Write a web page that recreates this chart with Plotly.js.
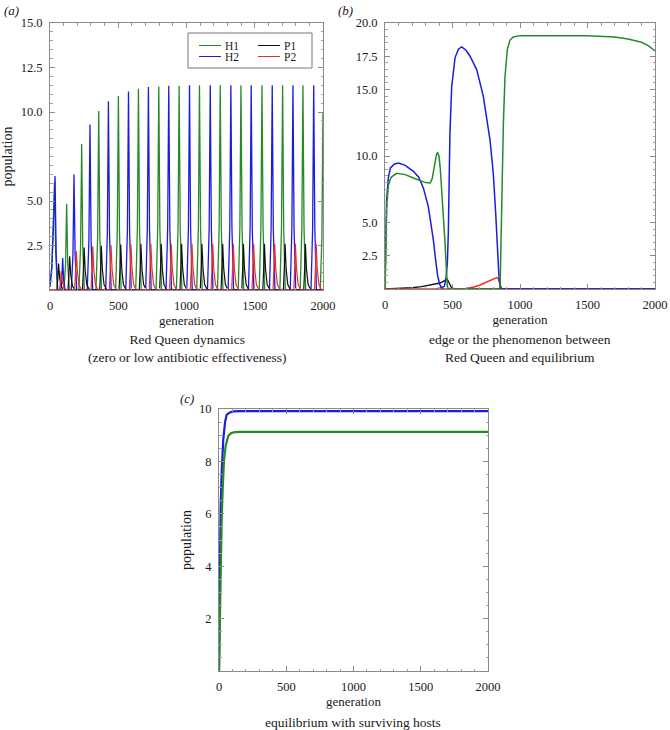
<!DOCTYPE html>
<html><head><meta charset="utf-8">
<script src="https://cdn.plot.ly/plotly-3.0.1.min.js"></script>
<style>html,body{margin:0;padding:0;background:#fff}#chart{width:670px;height:730px}</style>
</head><body><div id="chart"></div>
<script>
// ---------- Panel (a): Red Queen dynamics ----------
const aH1Gen = [0,12,24,33,42,55, 102,114,122,130,142, 212,224,232,240,252, 337,349,357,365,377, 481,493,501,509,521, 628,640,648,656,668, 777,789,797,805,817, 926,938,946,954,966, 1075,1087,1095,1103,1115, 1227,1239,1247,1255,1267, 1379,1391,1399,1407,1419, 1533,1545,1553,1561,1573, 1684,1696,1704,1712,1724, 1833,1845,1853,1861,1873, 1980,1992,2000];
const aH1Pop = [0.2,1.2,3.8,6.06,2.0,0, 0,1.45,4.85,1.45,0, 0,2.46,8.2,2.46,0, 0,3.02,10.05,3.02,0, 0,3.27,10.9,3.27,0, 0,3.39,11.3,3.39,0, 0,3.43,11.43,3.43,0, 0,3.44,11.48,3.44,0, 0,3.45,11.5,3.45,0, 0,3.45,11.5,3.45,0, 0,3.45,11.5,3.45,0, 0,3.45,11.5,3.45,0, 0,3.45,11.5,3.45,0, 0,3.45,11.5,3.45,0, 0,3.0,10.0];

const aH2Gen = [0,14,27,37,45,56, 79,86,93,100,111, 156,168,176,184,196, 273,285,293,301,313, 408,420,428,436,448, 555,567,575,583,595, 701,713,721,729,741, 850,862,870,878,890, 1002,1014,1022,1030,1042, 1154,1166,1174,1182,1194, 1305,1317,1325,1333,1345, 1454,1466,1474,1482,1494, 1608,1620,1628,1636,1648, 1760,1772,1780,1788,1800, 1912,1924,1932,1940,1952, 2000];
const aH2Pop = [0.2,1.3,4.0,6.4,2.1,0, 0,0.55,1.8,0.55,0, 0,1.95,6.5,1.95,0, 0,2.79,9.3,2.79,0, 0,3.18,10.6,3.18,0, 0,3.35,11.15,3.35,0, 0,3.42,11.4,3.42,0, 0,3.44,11.48,3.44,0, 0,3.45,11.5,3.45,0, 0,3.45,11.5,3.45,0, 0,3.45,11.5,3.45,0, 0,3.45,11.5,3.45,0, 0,3.45,11.5,3.45,0, 0,3.45,11.5,3.45,0, 0,3.45,11.5,3.45,0, 0];

const aP1Gen = [0, 51,58,63,71,83,103, 132,139,144,152,164,184, 238,245,250,258,270,290, 364,371,376,384,396,416, 506,513,518,526,538,558, 654,661,666,674,686,706, 803,810,815,823,835,855, 952,959,964,972,984,1004, 1101,1108,1113,1121,1133,1153, 1253,1260,1265,1273,1285,1305, 1405,1412,1417,1425,1437,1457, 1559,1566,1571,1579,1591,1611, 1710,1717,1722,1730,1742,1762, 1859,1866,1871,1879,1891,1911, 2000];
const aP1Pop = [0, 0,0.75,1.49,0.67,0.18,0, 0,0.95,1.9,0.86,0.23,0, 0,1.2,2.39,1.08,0.29,0, 0,1.24,2.48,1.12,0.3,0, 0,1.28,2.55,1.15,0.31,0, 0,1.29,2.58,1.16,0.31,0, 0,1.3,2.6,1.17,0.31,0, 0,1.3,2.6,1.17,0.31,0, 0,1.3,2.6,1.17,0.31,0, 0,1.3,2.6,1.17,0.31,0, 0,1.3,2.6,1.17,0.31,0, 0,1.3,2.6,1.17,0.31,0, 0,1.3,2.6,1.17,0.31,0, 0,1.3,2.6,1.17,0.31,0, 0];

const aP2Gen = [0, 70,77,82,90,102,122, 181,188,193,201,213,233, 301,308,313,321,333,353, 435,442,447,455,467,487, 581,588,593,601,613,633, 727,734,739,747,759,779, 876,883,888,896,908,928, 1028,1035,1040,1048,1060,1080, 1180,1187,1192,1200,1212,1232, 1331,1338,1343,1351,1363,1383, 1480,1487,1492,1500,1512,1532, 1634,1641,1646,1654,1666,1686, 1786,1793,1798,1806,1818,1838, 1938,1945,1950,1958,1970,1990, 2000];
const aP2Pop = [0, 0,0.52,1.05,0.47,0.13,0, 0,1.09,2.18,0.98,0.26,0, 0,1.23,2.46,1.11,0.3,0, 0,1.27,2.53,1.14,0.3,0, 0,1.29,2.57,1.16,0.31,0, 0,1.3,2.6,1.17,0.31,0, 0,1.3,2.6,1.17,0.31,0, 0,1.3,2.6,1.17,0.31,0, 0,1.3,2.6,1.17,0.31,0, 0,1.3,2.6,1.17,0.31,0, 0,1.3,2.6,1.17,0.31,0, 0,1.3,2.6,1.17,0.31,0, 0,1.3,2.6,1.17,0.31,0, 0,1.3,2.6,1.17,0.31,0, 0];

// ---------- Panel (b): edge between Red Queen and equilibrium ----------
const bH1Gen = [0,5,12,25,45,86,150,210,270,300,335,350,360,372,382,390,400,410,420,432,445,455,462,470, 848,853,859,869,877,889,906,925,950,1000,1200,1500,1700,1800,1900,1950,2000];
const bH1Pop = [0,3.0,6.0,7.8,8.4,8.7,8.6,8.35,8.1,8.0,7.97,8.3,8.9,9.7,10.15,10.27,10.0,9.0,7.6,5.5,3.4,1.4,0.2,0, 0,0.3,4.2,9.7,12.5,16.0,18.0,18.7,18.95,19.05,19.05,19.05,18.95,18.8,18.55,18.3,17.9];
const bH2Gen = [0,5,12,25,40,70,100,150,210,250,284,321,340,358,375,390,405,420,440,452,462,469,475,481,494,519,545,568,600,630,679,728,778,802,820,835,844,852,862,2000];
const bH2Pop = [0,3.5,6.7,8.4,9.1,9.4,9.47,9.3,8.85,8.4,7.6,6.2,5.0,3.7,2.2,1.0,0.35,0.1,0.2,0.8,2.0,4.2,8.0,11.7,15.2,17.4,18.05,18.2,17.95,17.5,16.5,14.5,11.2,8.7,5.7,2.45,0.95,0.2,0,0];
const bP1Gen = [0,100,200,270,333,380,407,432,450,460,468,478,490,505,520,2000];
const bP1Pop = [0,0.03,0.09,0.18,0.28,0.38,0.45,0.58,0.68,0.75,0.6,0.35,0.15,0.04,0,0];
const bP2Gen = [0,380,395,410,425,440,580,620,660,704,750,790,815,828,838,846,853,862,875,2000];
const bP2Pop = [0,0,0.07,0.09,0.04,0,0,0.06,0.15,0.3,0.5,0.72,0.83,0.86,0.8,0.6,0.3,0.08,0,0];

// ---------- Panel (c): equilibrium with surviving hosts ----------
const cH1Gen = [0,5,10,20,28,37,50,69,90,119,160,2000];
const cH1Pop = [0,1.8,3.5,5.8,7.0,8.05,8.6,8.98,9.08,9.12,9.13,9.13];
const cH2Gen = [0,4,8,12,20,32,45,57,80,107,150,2000];
const cH2Pop = [0,2.5,4.6,6.2,7.6,8.85,9.5,9.78,9.87,9.91,9.92,9.92];

// ---------- Tick labels ----------
const genTicks = [0,500,1000,1500,2000];
const aYTicks = [2.5,5,10,12.5,15];
const aYText = ['2.5','5.0','10.0','12.5','15.0'];
const bYTicks = [2.5,5,10,15,17.5,20];
const bYText = ['2.5','5.0','10.0','15.0','17.5','20.0'];
const cYTicks = [2,4,6,8,10];
const cYText = ['2','4','6','8','10'];

// legend entries of panel (a): two columns
const legendCol1 = ['H1','H2'];
const legendCol2 = ['P1','P2'];

const COL = {H1:'#268a26', H2:'#1c1ce0', P1:'#111111', P2:'#e8302a'};
const FONT = 'Liberation Serif, Times New Roman, serif';

function tr(x, y, name, xa, ya, w) {
  return {type:'scatter', mode:'lines', x:x, y:y, name:name, xaxis:xa, yaxis:ya,
    line:{color:COL[name], width:w}, showlegend:false, hoverinfo:'skip'};
}

const data = [
  tr(aH1Gen, aH1Pop, 'H1', 'x', 'y', 1.3),
  tr(aH2Gen, aH2Pop, 'H2', 'x', 'y', 1.3),
  tr(aP1Gen, aP1Pop, 'P1', 'x', 'y', 1.2),
  tr(aP2Gen, aP2Pop, 'P2', 'x', 'y', 1.2),
  tr(bP1Gen, bP1Pop, 'P1', 'x2', 'y2', 1.4),
  tr(bP2Gen, bP2Pop, 'P2', 'x2', 'y2', 1.4),
  tr(bH2Gen, bH2Pop, 'H2', 'x2', 'y2', 1.5),
  tr(bH1Gen, bH1Pop, 'H1', 'x2', 'y2', 1.5),
  tr(cH2Gen, cH2Pop, 'H2', 'x3', 'y3', 2.2),
  tr(cH1Gen, cH1Pop, 'H1', 'x3', 'y3', 2.2)
];

const W = 670, H = 730;
const px = v => v / W, py = v => 1 - v / H;

function common() {
  return {showgrid:false, zeroline:false, showline:true, linecolor:'#8a8a8a', linewidth:1,
    mirror:'ticks', ticks:'inside', ticklen:5, tickwidth:1, tickcolor:'#8a8a8a',
    tickfont:{family:FONT, size:12.5, color:'#1a1a1a'}, ticklabelstandoff:4, fixedrange:true};
}
function xAxis(d0, d1, anchor) {
  return Object.assign(common(), {domain:[px(d0), px(d1)], anchor:anchor, range:[0,2000],
    tickmode:'array', tickvals:genTicks, ticktext:genTicks.map(String),
    minor:{tickmode:'linear', tick0:0, dtick:100, ticks:'inside', ticklen:2.5, tickcolor:'#a0a0a0'},
    title:{text:'generation', font:{family:FONT, size:13, color:'#1a1a1a'}, standoff:3}});
}
function yAxis(top, bottom, anchor, range, vals, text, dminor, title) {
  const ax = Object.assign(common(), {domain:[py(bottom), py(top)], anchor:anchor, range:range,
    tickmode:'array', tickvals:vals, ticktext:text,
    minor:{tickmode:'linear', tick0:0, dtick:dminor, ticks:'inside', ticklen:2.5, tickcolor:'#a0a0a0'}});
  if (title) ax.title = {text:title, font:{family:FONT, size:14, color:'#1a1a1a'}, standoff:4};
  return ax;
}

// manual two-column legend for panel (a)
const legendShapes = [{type:'rect', xref:'paper', yref:'paper', x0:px(188), x1:px(312), y0:py(68), y1:py(33),
    line:{color:'#777', width:1}, fillcolor:'rgba(0,0,0,0)'}];
const legendAnn = [];
[[legendCol1, 199], [legendCol2, 258]].forEach(([names, x0]) => {
  names.forEach((n, i) => {
    const yy = 45.5 + i * 11;
    legendShapes.push({type:'line', xref:'paper', yref:'paper', x0:px(x0), x1:px(x0 + 22), y0:py(yy), y1:py(yy),
      line:{color:COL[n], width:1}});
    legendAnn.push({text:n, x:px(x0 + 24), y:py(yy), xref:'paper', yref:'paper', xanchor:'left', yanchor:'middle',
      showarrow:false, font:{family:FONT, size:11.5, color:'#1a1a1a'}});
  });
});

function ann(text, x, y, size) {
  return {text:text, x:px(x), y:py(y), xref:'paper', yref:'paper', xanchor:'center', yanchor:'middle',
    showarrow:false, font:{family:FONT, size:size, color:'#1a1a1a'}};
}

const layout = {
  width:W, height:H, margin:{l:0, r:0, t:0, b:0}, paper_bgcolor:'#fff', plot_bgcolor:'#fff',
  font:{family:FONT, color:'#1a1a1a'}, showlegend:false,
  xaxis: xAxis(50, 323, 'y'),
  yaxis: yAxis(23, 290, 'x', [0,15], aYTicks, aYText, 0.5, 'population'),
  xaxis2: xAxis(385, 655, 'y2'),
  yaxis2: yAxis(23, 289, 'x2', [0,20], bYTicks, bYText, 0.5, null),
  xaxis3: xAxis(219, 488, 'y3'),
  yaxis3: yAxis(409, 671, 'x3', [0,10], cYTicks, cYText, 0.5, 'population'),
  shapes: legendShapes,
  annotations: [
    ann('<i>(a)</i>', 11, 11, 13),
    ann('<i>(b)</i>', 345, 10, 13),
    ann('<i>(c)</i>', 187, 398, 13),
    ann('Red Queen dynamics<br>(zero or low antibiotic effectiveness)', 187, 348.5, 13.5),
    ann('edge or the phenomenon between<br>Red Queen and equilibrium', 520, 348.5, 13.5),
    ann('equilibrium with surviving hosts', 353, 722, 13.5)
  ].concat(legendAnn)
};

Plotly.newPlot('chart', data, layout, {staticPlot:true, displayModeBar:false});
</script></body></html>
